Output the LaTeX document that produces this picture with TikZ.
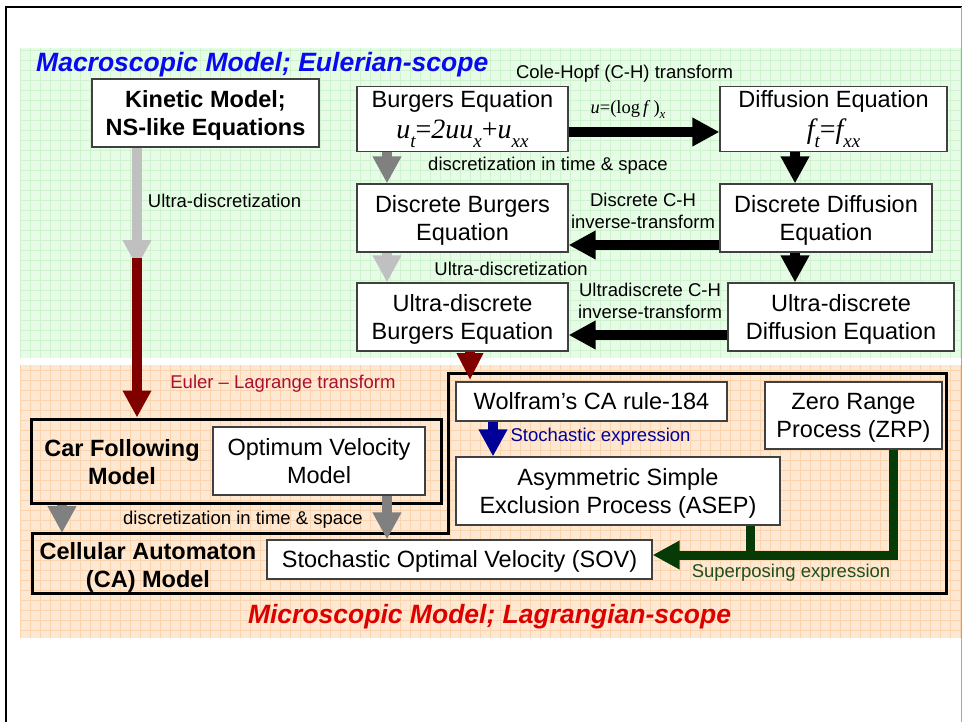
\documentclass[tikz,border=0pt]{standalone}
\usepackage{fontspec}
\setmainfont{Liberation Sans}
\newfontfamily\tms{Liberation Serif}
\usetikzlibrary{arrows.meta}

\definecolor{bgreen}{HTML}{E7FCE7}
\definecolor{ggreen}{HTML}{CFF3CF}
\definecolor{borange}{HTML}{FDE8D3}
\definecolor{gorange}{HTML}{FBD3AC}
\definecolor{grayA}{HTML}{808080}
\definecolor{grayB}{HTML}{C0C0C0}
\definecolor{maroonA}{HTML}{800000}
\definecolor{navyA}{HTML}{000099}
\definecolor{forestA}{HTML}{063A06}
\definecolor{forestT}{HTML}{1F4F1F}
\definecolor{crimsonA}{HTML}{AA0F32}
\definecolor{titleblue}{HTML}{0A0AF0}
\definecolor{titlered}{HTML}{DD0000}

% line strut with the ascent/descent of the sans face
\newcommand\lnst{\rule[-0.212em]{0pt}{1.117em}}
\newcommand\boxfont{\fontsize{23.5}{28}\selectfont\lineskiplimit=-100pt}
\newcommand\lblfont{\fontsize{18.5}{22}\selectfont}
\newcommand\titlefont{\fontsize{26.5}{30}\selectfont\bfseries\itshape}
% equations in the two top boxes: large italic serif with lowered subscripts
\newcommand\formula[1]{{\tms\itshape\fontsize{28}{28}\selectfont #1}}
\newcommand\sbs[1]{\raisebox{-9pt}{\fontsize{19}{19}\selectfont #1}}
\newcommand\lsbs[1]{\raisebox{-4.5pt}{\fontsize{13}{13}\selectfont #1}}

\begin{document}
\begin{tikzpicture}[x=1pt,y=-1pt,
  box/.style={draw=black!75, line width=1.2pt, fill=white, inner sep=0pt,
    align=center, font=\boxfont},
  thickbox/.style={draw=black, line width=3pt, inner sep=0pt},
  ttext/.style={inner sep=0pt, align=center, font=\boxfont\bfseries},
  lbl/.style={inner sep=0pt, align=center, font=\lblfont, anchor=base},
  lblc/.style={inner sep=0pt, align=center, font=\lblfont},
  fat/.style={line width=10pt, -{Triangle[width=27pt,length=27pt]}},
  fatred/.style={line width=10pt, maroonA, -{Triangle[width=25pt,length=27pt]}},
  fatgreen/.style={line width=9pt, forestA, -{Triangle[width=27pt,length=27pt]}},
  ]
\useasboundingbox (0,0) rectangle (963,722);

% backgrounds with grid
\fill[bgreen] (20,48) rectangle (961,358);
\begin{scope}
  \clip (20,48) rectangle (961,358);
  \draw[ggreen, line width=0.7pt] (20,48) grid[step=10pt] (961,358);
\end{scope}
\fill[borange] (20,365) rectangle (961,638);
\begin{scope}
  \clip (20,365) rectangle (961,638);
  \draw[gorange, line width=0.7pt] (20,365) grid[step=10pt] (961,638);
\end{scope}

% slide frame
\draw[line width=2.5pt] (6,722) -- (6,7) -- (962,7);
\draw[black!35, line width=1pt] (961,7) -- (961,722);

% titles
\node[font=\titlefont, text=titleblue, anchor=base west, inner sep=0pt] (ttlmacro) at (36,72) {Macroscopic Model; Eulerian-scope};
\node[font=\titlefont, text=titlered, anchor=base, inner sep=0pt] (ttlmicro) at (489.5,623) {Microscopic Model; Lagrangian-scope};

% macroscopic boxes
\node[box, minimum width=227pt, minimum height=68pt, font=\boxfont\bfseries] (kin) at (205.5,113) {\lnst Kinetic Model;\\\lnst NS-like Equations};
\node[box, minimum width=211pt, minimum height=64pt] (burg) at (462.5,119) {\lnst Burgers Equation\\[3.5pt]\formula{u\sbs{t}{\upshape=}2uu\sbs{x}{\upshape+}u\sbs{xx}}\rule[-12.8pt]{0pt}{0pt}};
\node[box, minimum width=227pt, minimum height=64pt] (diff) at (833.5,119) {\lnst Diffusion Equation\\[3.5pt]\formula{f\sbs{t}{\upshape=}f\sbs{xx}}\rule[-12.8pt]{0pt}{0pt}};
\node[box, minimum width=211pt, minimum height=68pt] (dburg) at (462.5,218) {\lnst Discrete Burgers\\\lnst Equation};
\node[box, minimum width=212pt, minimum height=68pt] (ddiff) at (826,218) {\lnst Discrete Diffusion\\\lnst Equation};
\node[box, minimum width=211pt, minimum height=68pt] (uburg) at (462.5,317) {\lnst Ultra-discrete\\\lnst Burgers Equation};
\node[box, minimum width=226pt, minimum height=68pt] (udiff) at (841,317) {\lnst Ultra-discrete\\\lnst Diffusion Equation};

% microscopic frames
\node[thickbox, minimum width=410pt, minimum height=84pt] (car) at (236,461) {};
\coordinate (pA) at (448,373);
\coordinate (pB) at (946,373);
\coordinate (pC) at (946,593);
\coordinate (pD) at (32,593);
\coordinate (pE) at (32,533);
\coordinate (pF) at (448,533);
\draw[line width=3pt] (pA) -- (pB) -- (pC) -- (pD) -- (pE) -- (pF) -- cycle;
\node[ttext] (carttl) at (122,462) {\lnst Car Following\\\lnst Model};
\node[ttext] (cattl) at (148,565) {\lnst Cellular Automaton\\\lnst (CA) Model};

% microscopic boxes
\node[box, minimum width=212pt, minimum height=68pt] (ovm) at (319,461) {\lnst Optimum Velocity\\\lnst Model};
\node[box, minimum width=385pt, minimum height=39pt] (sov) at (459.5,559.5) {\lnst Stochastic Optimal Velocity (SOV)};
\node[box, minimum width=271pt, minimum height=39pt] (wolf) at (591.5,401.5) {\lnst Wolfram’s CA rule-184};
\node[box, minimum width=324pt, minimum height=68pt] (asep) at (618,491) {\lnst Asymmetric Simple\\\lnst Exclusion Process (ASEP)};
\node[box, minimum width=177pt, minimum height=67pt] (zrp) at (853.5,415.5) {\lnst Zero Range\\\lnst Process (ZRP)};

% reference columns and rows for the connectors
\coordinate (xa) at (387,0);
\coordinate (xd) at (795,0);
\coordinate (xk) at (137,0);
\coordinate (xr) at (470,0);
\coordinate (xc) at (62,0);
\coordinate (xb) at (493,0);
\coordinate (xg) at (893,0);
\coordinate (xe) at (750,0);
\coordinate (ya) at (0,132);
\coordinate (yb) at (0,245);
\coordinate (yc) at (0,335);
\coordinate (yg) at (0,555);
\coordinate (kgtip) at (137,267);
\coordinate (kred) at (137,258);
\coordinate (rtip) at (470,380);
\coordinate (gjoin) at (750,559.5);

% macroscopic connectors
\draw[fat, grayA] (burg.south -| xa) -- (dburg.north -| xa);
\draw[fat, grayB] (dburg.south -| xa) -- (uburg.north -| xa);
\draw[fat] (burg.east |- ya) -- (diff.west |- ya);
\draw[fat] (diff.south -| xd) -- (ddiff.north -| xd);
\draw[fat] (ddiff.south -| xd) -- (udiff.north -| xd);
\draw[fat] (ddiff.west |- yb) -- (dburg.east |- yb);
\draw[fat] (udiff.west |- yc) -- (uburg.east |- yc);
\draw[fat, grayB] (kin.south -| xk) -- (kgtip);

% macro to micro
\draw[fat, maroonA] (kred) -- (car.north -| xk);
\draw[fatred] (uburg.south -| xr) -- (rtip);

% microscopic connectors
\draw[fat, grayA] (car.south -| xc) -- (pE -| xc);
\draw[fat, grayA] (ovm.south -| xa) -- (sov.north -| xa);
\draw[fat, navyA] (wolf.south -| xb) -- (asep.north -| xb);
\draw[forestA, line width=9pt] (asep.south -| xe) -- (gjoin);
\draw[fatgreen] (zrp.south -| xg) |- (sov.east |- yg);

% connector labels
\node[lbl] (lch) at (624.5,78.5) {Cole-Hopf (C-H) transform};
\node[lbl, font=\tms\lblfont] (lcht) at (628,114) {\textit{u}=(log\,\textit{f}\,)\lsbs{\textit{x}}};
\node[lbl] (ldts1) at (548,171) {discretization in time \& space};
\node[lbl] (lud1) at (224.5,207.5) {Ultra-discretization};
\node[lblc] (ldch) at (643,210.75) {Discrete C-H\\inverse-transform};
\node[lbl] (lud2) at (511,275) {Ultra-discretization};
\node[lblc] (luch) at (650,301) {Ultradiscrete C-H\\inverse-transform};
\node[lbl, text=crimsonA] (lel) at (283,388) {Euler – Lagrange transform};
\node[lbl] (ldts2) at (243,524.5) {discretization in time \& space};
\node[lbl, text=navyA] (lse) at (600.5,441) {Stochastic expression};
\node[lbl, text=forestT] (lsp) at (791,577) {Superposing expression};
\end{tikzpicture}
\end{document}
